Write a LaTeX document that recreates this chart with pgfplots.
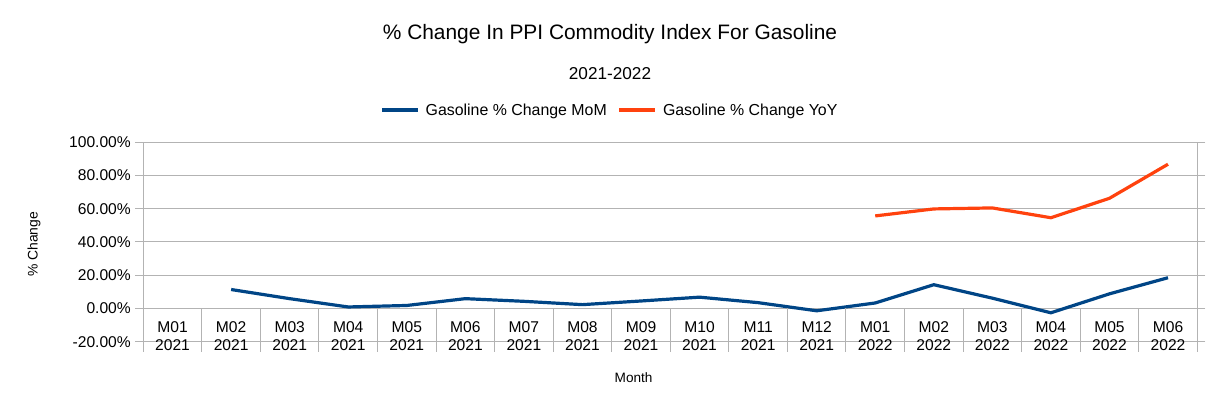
\documentclass[border=0pt]{standalone}
\usepackage{fontspec}
\setmainfont{Liberation Sans}
\usepackage{pgfplots}
\pgfplotsset{compat=1.18}
\definecolor{mom}{HTML}{004586}
\definecolor{yoy}{HTML}{FF420E}
\definecolor{gridgray}{HTML}{B3B3B3}

\begin{document}
\begin{tikzpicture}[x=1pt,y=1pt]
\useasboundingbox (0,0) rectangle (1222,409);
\node[font=\fontsize{20.9}{25}\selectfont, anchor=base] at (610,369.7)
  {\% Change In PPI Commodity Index For Gasoline};
\node[font=\fontsize{17.2}{21}\selectfont, anchor=base] at (610,329.7) {2021-2022};
\begin{axis}[
    at={(143.3pt,67.3pt)}, anchor=south west,
    scale only axis, width=1054pt, height=199.4pt,
    xmin=-0.5, xmax=17.5, ymin=-20, ymax=100,
    clip=false,
    axis line style={draw=gridgray, line width=1pt},
    ymajorgrids, grid style={draw=gridgray, line width=1pt},
    ytick={-20,0,20,40,60,80,100},
    yticklabels={-20.00\%,0.00\%,20.00\%,40.00\%,60.00\%,80.00\%,100.00\%},
    ytick align=outside, major tick length=8pt,
    ytick style={draw=gridgray, line width=1pt},
    xtick={0,...,17},
    xtick style={draw=none},
    xticklabels={{M01\\2021},{M02\\2021},{M03\\2021},{M04\\2021},{M05\\2021},{M06\\2021},
                 {M07\\2021},{M08\\2021},{M09\\2021},{M10\\2021},{M11\\2021},{M12\\2021},
                 {M01\\2022},{M02\\2022},{M03\\2022},{M04\\2022},{M05\\2022},{M06\\2022}},
    tick label style={font=\fontsize{15.6}{18.3}\selectfont},
    xticklabel style={align=center, anchor=base, yshift=-9.3pt},
    yticklabel style={xshift=-1pt},
    xlabel={Month},
    xlabel style={at={(axis description cs:0.4652,-0.2025)}, anchor=base,
                  font=\fontsize{13.6}{16}\selectfont},
    ylabel={\% Change},
    ylabel style={at={(axis description cs:-0.1037,0.4875)}, anchor=center,
                  font=\fontsize{13.9}{16}\selectfont},
    legend columns=2,
    legend style={draw=none, fill=none, at={(0.4418,1.162)}, anchor=center,
                  font=\fontsize{15.9}{19}\selectfont, inner sep=0pt,
                  nodes={inner sep=0pt},
                  /tikz/every odd column/.append style={column sep=6pt},
                  /tikz/every even column/.append style={column sep=11pt}},
    legend image code/.code={\draw[#1] (0pt,0pt) -- (36pt,0pt);},
]
\addplot[mom, line width=3.2pt, line join=round] coordinates {
    (1,11.4) (2,5.9) (3,0.9) (4,1.8) (5,5.9) (6,4.3) (7,2.3) (8,4.5) (9,6.8)
    (10,3.5) (11,-1.4) (12,3.3) (13,14.3) (14,6.2) (15,-2.6) (16,8.8) (17,18.5)
};
\addlegendentry{Gasoline \% Change MoM}
\addplot[yoy, line width=3.2pt, line join=round] coordinates {
    (12,55.7) (13,59.9) (14,60.5) (15,54.6) (16,66.3) (17,86.8)
};
\addlegendentry{Gasoline \% Change YoY}
\pgfplotsinvokeforeach{-0.5,0.5,...,17.5}{
  \draw[gridgray, line width=1pt] (axis cs:#1,0) -- (axis cs:#1,-26);
}
\end{axis}
\end{tikzpicture}
\end{document}
